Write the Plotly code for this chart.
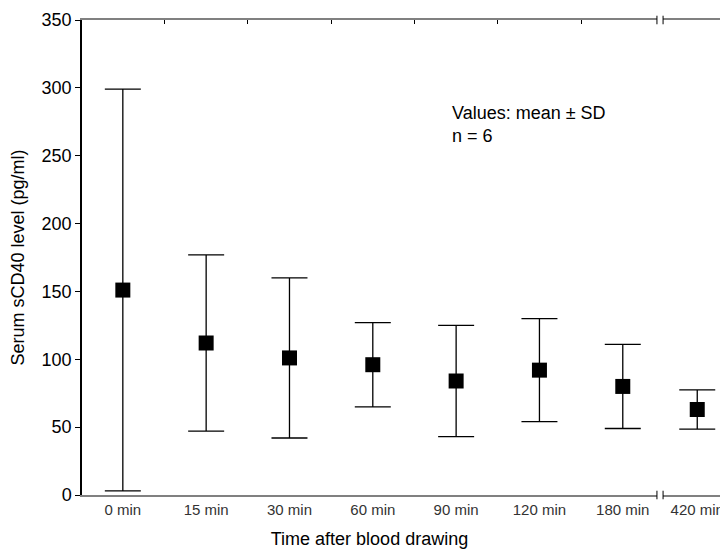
import plotly.graph_objects as go

categories = ["0 min", "15 min", "30 min", "60 min", "90 min", "120 min", "180 min", "420 min"]
means = [151, 112, 101, 96, 84, 92, 80, 63]
sds = [148, 65, 59, 31, 41, 38, 31, 14.5]
y_ticks = [0, 50, 100, 150, 200, 250, 300, 350]

FONT = "Arial, Liberation Sans, sans-serif"
N_MAIN = 7                      # categories before the axis break
D1 = 0.890                      # end of first axis segment (paper)
D2 = 0.8995                     # start of second axis segment (paper)
XR1 = [-0.49, 6.41]
XR3 = [-0.5, 0.45]
GRAY = "#808080"

marker = dict(symbol="square", size=15, color="black")

def err(vals):
    return dict(type="data", array=vals, visible=True, color="black", thickness=1.3, width=18)

fig = go.Figure()
fig.add_trace(go.Scatter(
    x=categories[:N_MAIN], y=means[:N_MAIN], mode="markers", marker=marker,
    error_y=err(sds[:N_MAIN]), showlegend=False, cliponaxis=False,
))
fig.add_trace(go.Scatter(
    x=categories[N_MAIN:], y=means[N_MAIN:], mode="markers", marker=marker,
    error_y=err(sds[N_MAIN:]), xaxis="x3", showlegend=False, cliponaxis=False,
))
# invisible trace anchoring the top tick axis
fig.add_trace(go.Scatter(x=[], y=[], xaxis="x2", showlegend=False, hoverinfo="skip"))

xcommon = dict(showgrid=False, zeroline=False, automargin=False,
               showline=True, linecolor=GRAY, linewidth=2, mirror=True,
               ticks="", tickfont=dict(size=15, color="#333333"))

fig.update_layout(
    width=720, height=543,
    margin=dict(l=74, r=0, t=12, b=56),
    paper_bgcolor="white", plot_bgcolor="white",
    font=dict(family=FONT, color="black"),
    xaxis=dict(type="category", range=XR1, domain=[0, D1], anchor="y",
               title=dict(text="Time after blood drawing", font=dict(size=18), standoff=15),
               **xcommon),
    xaxis3=dict(type="category", range=XR3, domain=[D2, 1], anchor="y", **xcommon),
    xaxis2=dict(
        overlaying="x", side="top", anchor="y", range=XR1, domain=[0, D1], type="linear",
        automargin=False, showgrid=False, zeroline=False, showline=False,
        tickmode="array", tickvals=[0.5, 1.5, 2.5, 3.5, 4.5, 5.5],
        ticks="inside", ticklen=4, tickcolor="black", tickwidth=1,
        showticklabels=False,
    ),
    yaxis=dict(
        range=[0, 350], tickvals=y_ticks, showgrid=False, zeroline=False, automargin=False,
        showline=True, linecolor="black", linewidth=1.5,
        ticks="outside", ticklen=5, tickcolor="black",
        tickfont=dict(size=18, color="black"),
        title=dict(text="Serum sCD40 level (pg/ml)", font=dict(size=18), standoff=13),
    ),
    annotations=[dict(
        xref="paper", yref="paper", x=0.570, y=0.83, xanchor="left", yanchor="top",
        align="left", showarrow=False,
        text="Values: mean ± SD<br>n = 6", font=dict(size=18, color="black"),
    )],
)

# axis break marks at the segment ends (top and bottom)
shapes = []
for yc in (0.0, 1.0):
    for bx in (D1, D2):
        shapes.append(dict(type="line", xref="paper", yref="paper", x0=bx, x1=bx,
                           y0=yc - 0.009, y1=yc + 0.009, line=dict(color="black", width=1)))
fig.update_layout(shapes=shapes)

fig.write_html("out.html")
